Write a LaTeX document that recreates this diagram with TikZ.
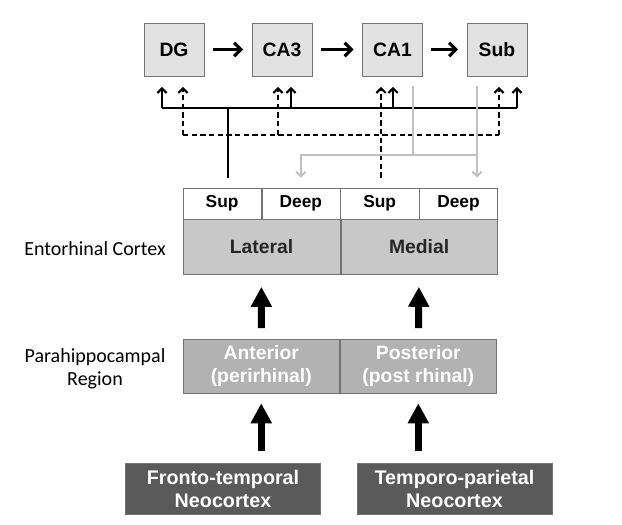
\documentclass[tikz,border=0pt]{standalone}
\usepackage{fontspec}
\setmainfont{Liberation Sans}
\newfontfamily\labelfont{Carlito}
\usetikzlibrary{positioning,arrows.meta,calc}
\definecolor{hipfill}{RGB}{226,226,226}
\definecolor{ecfill}{RGB}{200,200,200}
\definecolor{phfill}{RGB}{178,178,178}
\definecolor{ncfill}{RGB}{90,90,90}
\definecolor{edgegray}{RGB}{115,115,115}
\definecolor{projgray}{RGB}{192,192,192}

\begin{document}
\begin{tikzpicture}[
    x=0.75pt, y=-0.75pt,
    hipbox/.style={rectangle, draw=edgegray, fill=hipfill, minimum width=45pt, minimum height=39.75pt, inner sep=0pt, font=\bfseries\fontsize{14.5}{16}\selectfont},
    layer/.style={rectangle, draw=edgegray, fill=white, minimum width=58.7pt, minimum height=23.25pt, inner sep=0pt, font=\bfseries\fontsize{13}{14}\selectfont},
    ecregion/.style={rectangle, draw=edgegray, fill=ecfill, minimum width=117.4pt, minimum height=41.25pt, inner sep=0pt, text=black!85, font=\bfseries\fontsize{14.5}{16}\selectfont},
    phregion/.style={rectangle, draw=edgegray, fill=phfill, minimum width=117.4pt, minimum height=40.5pt, inner sep=0pt, align=center, text=white, font=\bfseries\fontsize{14.5}{17.25}\selectfont},
    neobox/.style={rectangle, draw=edgegray, fill=ncfill, minimum width=146.25pt, minimum height=38.25pt, inner sep=0pt, align=center, text=white, font=\bfseries\fontsize{14.8}{17.25}\selectfont},
    sidelabel/.style={align=center, font=\labelfont\fontsize{15}{17.25}\selectfont},
    flow/.style={-{Straight Barb[length=5pt,width=10pt]}, line width=2.4pt, shorten <=6.5pt, shorten >=6.5pt},
    bigarrow/.style={-{Triangle[length=15pt,width=15pt]}, line width=5.25pt},
    solidline/.style={line width=1.5pt},
    dashline/.style={line width=1.5pt, dash pattern=on 4pt off 2.5pt},
    grayline/.style={line width=1.5pt, draw=projgray},
    tip/.style={-{Straight Barb[length=3.5pt,width=7pt]}},
]
\useasboundingbox (0,0) rectangle (622,525);

% Hippocampus
\node[hipbox] (dg) at (174,49.5) {DG};
\node[hipbox] (ca3) at (282,49.5) {CA3};
\node[hipbox] (ca1) at (392.5,49.5) {CA1};
\node[hipbox] (sub) at (497,49.5) {Sub};

\draw[flow] (dg) -- (ca3);
\draw[flow] (ca3) -- (ca1);
\draw[flow] (ca1) -- (sub);

% Entorhinal cortex
\node[layer] (latsup) at (222.1,203.5) {Sup};
\node[layer, right=0pt of latsup] (latdeep) {Deep};
\node[layer, right=0pt of latdeep] (medsup) {Sup};
\node[layer, right=0pt of medsup] (meddeep) {Deep};
\node[ecregion, anchor=north] (lateral) at (latsup.south east) {Lateral};
\node[ecregion, anchor=north] (medial) at (medsup.south east) {Medial};
\node[sidelabel] (eclabel) at (95,249) {Entorhinal Cortex};

% Parahippocampal region
\node[phregion] (anterior) at (261.25,366) {Anterior\\(perirhinal)};
\node[phregion, right=0pt of anterior] (posterior) {Posterior\\(post rhinal)};
\node[sidelabel] (phlabel) at (95,369) {Parahippocampal\\Region};

% Neocortex
\node[neobox] (fronto) at (223,489) {Fronto-temporal\\Neocortex};
\node[neobox] (temporo) at (454.5,489) {Temporo-parietal\\Neocortex};

\draw[bigarrow, shorten <=8pt, shorten >=9pt] (anterior) -- (lateral);
\draw[bigarrow, shorten <=8pt, shorten >=9pt] (posterior) -- (medial);
\draw[bigarrow, shorten <=9pt, shorten >=7.5pt] (anterior.south |- fronto.north) -- (anterior.south);
\draw[bigarrow, shorten <=9pt, shorten >=7.5pt] (posterior.south |- temporo.north) -- (posterior.south);

% feet of the projections
\coordinate (dgsol) at ([xshift=-9pt]dg.south);
\coordinate (dgdash) at ([xshift=6.75pt]dg.south);
\coordinate (cathreedash) at ([xshift=-3pt]ca3.south);
\coordinate (cathreesol) at ([xshift=6.75pt]ca3.south);
\coordinate (caonedash) at ([xshift=-8.6pt]ca1.south);
\coordinate (caonesol) at ([xshift=0.4pt]ca1.south);
\coordinate (caonegray) at ([xshift=15.4pt]ca1.south);
\coordinate (subgray) at ([xshift=-15pt]sub.south);
\coordinate (subdash) at ([xshift=1.5pt]sub.south);
\coordinate (subsol) at ([xshift=15pt]sub.south);
\coordinate (latsol) at ([xshift=4.5pt]latsup.north);
\coordinate (solbus) at (0,108);
\coordinate (dashbus) at (0,135);
\coordinate (graybus) at (0,155);

% lateral superficial (solid)
\draw[solidline, shorten <=7.5pt] (latsol) -- (latsol |- solbus);
\draw[solidline] (dgsol |- solbus) -- (subsol |- solbus);
\foreach \c in {dgsol,cathreesol,caonesol,subsol}
  \draw[solidline, tip, shorten >=8pt] (\c |- solbus) -- (\c);

% medial superficial (dashed)
\draw[dashline, tip, shorten <=7.5pt, shorten >=8pt] (caonedash |- medsup.north) -- (caonedash);
\draw[dashline] (dgdash |- dashbus) -- (subdash |- dashbus);
\foreach \c in {dgdash,cathreedash,subdash}
  \draw[dashline, tip, shorten >=8pt] (\c |- dashbus) -- (\c);

% back projections to deep layers (gray)
\draw[grayline, shorten <=7.5pt] (caonegray) -- (caonegray |- graybus);
\draw[grayline] (caonegray |- graybus) -- (subgray |- graybus);
\draw[grayline, tip, shorten >=7.5pt] (subgray |- graybus) -| (latdeep.north);
\draw[grayline, tip, shorten <=7.5pt, shorten >=7.5pt] (subgray) -- (subgray |- meddeep.north);

\end{tikzpicture}
\end{document}
